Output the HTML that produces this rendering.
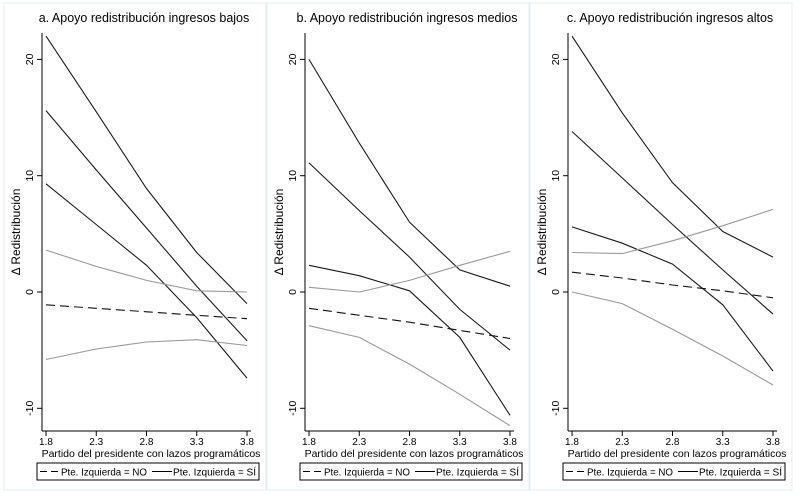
<!DOCTYPE html>
<html><head><meta charset="utf-8"><style>
body{margin:0;background:#fff;}
svg{display:block;font-family:"Liberation Sans",sans-serif;}
</style></head><body>
<svg id="c" width="800" height="496" viewBox="0 0 800 496"></svg>
<script>
const xTicks=[1.8,2.3,2.8,3.3,3.8];
const yTicks=[-10,0,10,20];
const titles=["a. Apoyo redistribución ingresos bajos","b. Apoyo redistribución ingresos medios","c. Apoyo redistribución ingresos altos"];
const aSiUp=[22,15.5,8.9,3.4,-1.0], aSi=[15.6,10.5,5.5,0.5,-4.2], aSiLo=[9.3,5.8,2.3,-2.2,-7.4];
const aNoUp=[3.6,2.2,1.0,0.1,0.0], aNo=[-1.1,-1.4,-1.7,-2.0,-2.3], aNoLo=[-5.8,-4.9,-4.3,-4.1,-4.6];
const bSiUp=[20,12.8,6.0,1.9,0.5], bSi=[11.1,7.0,3.0,-1.5,-5.0], bSiLo=[2.3,1.4,0.1,-3.9,-10.6];
const bNoUp=[0.4,0.0,1.0,2.3,3.5], bNo=[-1.4,-2.0,-2.6,-3.3,-4.0], bNoLo=[-2.9,-3.9,-6.2,-8.8,-11.5];
const cSiUp=[22,15.4,9.4,5.2,3.0], cSi=[13.8,9.8,5.8,1.9,-1.9], cSiLo=[5.6,4.2,2.4,-1.1,-6.8];
const cNoUp=[3.4,3.3,4.4,5.7,7.1], cNo=[1.7,1.2,0.6,0.1,-0.5], cNoLo=[0.0,-1.0,-3.2,-5.5,-8.0];
const panels=[[aSiUp,aSi,aSiLo,aNoUp,aNo,aNoLo],[bSiUp,bSi,bSiLo,bNoUp,bNo,bNoLo],[cSiUp,cSi,cSiLo,cNoUp,cNo,cNoLo]];
const offs=[0,263,526];
const svg=document.getElementById('c');
const NS='http://www.w3.org/2000/svg';
function mk(t,a,p){const e=document.createElementNS(NS,t);for(const k in a)e.setAttribute(k,a[k]);(p||svg).appendChild(e);return e;}
const yS=v=>292-v*11.63;
panels.forEach((P,i)=>{
 const o=offs[i];
 const xS=v=>o+46+(v-1.8)*100.5;
 const g=mk('g',{});
 
 
 const fr=mk('rect',{x:o+4,y:3,width:262,height:487,fill:'none',stroke:'#e4ecf2','stroke-width':1},g);
 
 const t=mk('text',{x:o+144,y:22,'text-anchor':'middle','font-size':12.5,fill:'#000'},g);t.textContent=titles[i];
 
 mk('line',{x1:o+42,y1:33,x2:o+42,y2:431,stroke:'#000','stroke-width':1},g);
 mk('line',{x1:o+42,y1:431,x2:o+251,y2:431,stroke:'#000','stroke-width':1},g);
 yTicks.forEach(v=>{const y=yS(v);mk('line',{x1:o+37,y1:y,x2:o+42,y2:y,stroke:'#000'},g);
  const tx=mk('text',{x:o+33,y:y,'text-anchor':'middle','font-size':10.5,transform:`rotate(-90 ${o+33} ${y})`},g);tx.textContent=v;
  });
 xTicks.forEach(v=>{const x=xS(v);mk('line',{x1:x,y1:431,x2:x,y2:436,stroke:'#000'},g);
  const tx=mk('text',{x:x,y:445,'text-anchor':'middle','font-size':10},g);tx.textContent=v.toFixed(1);
  });
 const yt=mk('text',{x:o+20,y:232,'text-anchor':'middle','font-size':12,transform:`rotate(-90 ${o+20} 232)`},g);yt.textContent='Δ Redistribución';
 
 const xt=mk('text',{x:o+151,y:457,'text-anchor':'middle','font-size':10.5},g);xt.textContent='Partido del presidente con lazos programáticos';
 
 const styles=[['#1a1a1a',''],['#1a1a1a',''],['#1a1a1a',''],['#999',''],['#111','9 5'],['#999','']];
 const names=['si-upper-ci','si-estimate','si-lower-ci','no-upper-ci','no-estimate','no-lower-ci'];
 P.forEach((s,k)=>{const d=s.map((v,j)=>(j?'L':'M')+xS(xTicks[j]).toFixed(1)+' '+yS(v).toFixed(1)).join(' ');
  const p=mk('path',{d:d,fill:'none',stroke:styles[k][0],'stroke-width':1.1,'stroke-dasharray':styles[k][1]},g);
  });
 const lg=mk('g',{},g);
 mk('rect',{x:o+37,y:463,width:222,height:17,fill:'#fff',stroke:'#000'},lg);
 mk('line',{x1:o+40,y1:471.5,x2:o+59,y2:471.5,stroke:'#000','stroke-dasharray':'7 4'},lg);
 const l1=mk('text',{x:o+61,y:475.5,'font-size':10,textLength:86,lengthAdjust:'spacingAndGlyphs'},lg);l1.textContent='Pte. Izquierda = NO';
 
 mk('line',{x1:o+152,y1:471.5,x2:o+172,y2:471.5,stroke:'#000'},lg);
 const l2=mk('text',{x:o+173,y:475.5,'font-size':10,textLength:83,lengthAdjust:'spacingAndGlyphs'},lg);l2.textContent='Pte. Izquierda = SÍ';
 
});
</script>
</body></html>
